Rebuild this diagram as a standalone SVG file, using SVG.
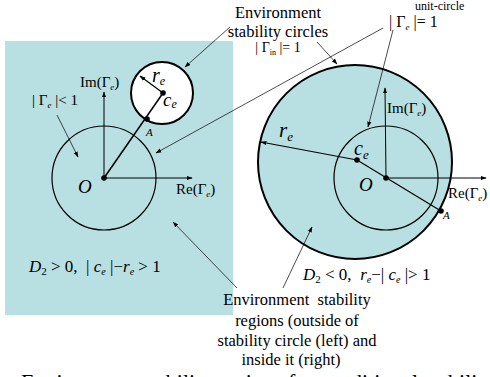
<svg xmlns="http://www.w3.org/2000/svg" width="490" height="377" viewBox="0 0 490 377">
<defs>
<marker id="ah" viewBox="0 0 10 10" refX="9" refY="5" markerWidth="6" markerHeight="6" orient="auto" markerUnits="userSpaceOnUse">
<path d="M0,1.5 L10,5 L0,8.5 z" fill="#000"/>
</marker>
<style>
text{font-family:"Liberation Serif","Times New Roman",serif;fill:#000;white-space:pre}
.it{font-style:italic}
.ptr{stroke:#000;stroke-width:0.7;fill:none;marker-end:url(#ah)}
.ax{stroke:#000;stroke-width:1;fill:none;marker-end:url(#ah)}
.unit{stroke:#000;stroke-width:1.2;fill:none}
.stab{stroke:#000;stroke-width:2}
.dot{fill:#000}
</style>
</defs>
<rect width="490" height="377" fill="#fff"/>

<g id="left-plane">
<rect x="5" y="41" width="228" height="274" fill="#b8dfe1"/>
<circle cx="162" cy="93" r="31" fill="#fff" class="stab"/>
<circle cx="104" cy="178" r="52" class="unit"/>
<line x1="104" y1="178" x2="104" y2="92" class="ax"/>
<line x1="104" y1="178" x2="192" y2="178" class="ax"/>
<line x1="104" y1="178" x2="163" y2="93" stroke="#000" stroke-width="1.5"/>
<line x1="163" y1="93" x2="140" y2="76" stroke="#000" stroke-width="1.2" marker-end="url(#ah)"/>
<circle cx="104" cy="178" r="2.8" class="dot"/>
<circle cx="163" cy="93" r="2.8" class="dot"/>
<circle cx="147" cy="119" r="2.8" class="dot"/>
<text x="80" y="87" font-size="15">Im(Γ<tspan class="it" font-size="9" dy="3">e</tspan><tspan dy="-3">)</tspan></text>
<text x="32" y="105" font-size="15">| Γ<tspan class="it" font-size="9" dy="3">e</tspan><tspan dy="-3"> |&lt; 1</tspan></text>
<text x="152" y="82" font-size="20" class="it">r<tspan font-size="12" dy="3">e</tspan></text>
<text x="163" y="106" font-size="19" class="it">c<tspan font-size="12" dy="2">e</tspan></text>
<text x="146" y="136" font-size="11" class="it">A</text>
<text x="78" y="193" font-size="19" class="it">O</text>
<text x="176" y="194" font-size="15">Re(Γ<tspan class="it" font-size="9" dy="3">e</tspan><tspan dy="-3">)</tspan></text>
<text x="29" y="272" font-size="17"><tspan class="it">D</tspan><tspan font-size="11" dy="3">2</tspan><tspan dy="-3"> &gt; 0,  | </tspan><tspan class="it">c</tspan><tspan class="it" font-size="10" dy="3">e</tspan><tspan dy="-3"> |−</tspan><tspan class="it">r</tspan><tspan class="it" font-size="10" dy="3">e</tspan><tspan dy="-3"> &gt; 1</tspan></text>
</g>

<g id="right-plane">
<circle cx="355" cy="162" r="97" fill="#b8dfe1" class="stab"/>
<circle cx="386" cy="178" r="52" class="unit"/>
<line x1="386" y1="178" x2="385" y2="88" class="ax"/>
<line x1="386" y1="178" x2="486" y2="178" class="ax"/>
<line x1="357" y1="160" x2="441" y2="211" stroke="#000" stroke-width="1.2"/>
<line x1="357" y1="160" x2="261" y2="142" stroke="#000" stroke-width="1.2" marker-end="url(#ah)"/>
<circle cx="386" cy="178" r="2.8" class="dot"/>
<circle cx="357" cy="160" r="2.8" class="dot"/>
<circle cx="441" cy="211" r="2.8" class="dot"/>
<text x="387" y="113" font-size="15">Im(Γ<tspan class="it" font-size="9" dy="3">e</tspan><tspan dy="-3">)</tspan></text>
<text x="279" y="137" font-size="21" class="it">r<tspan font-size="13" dy="4">e</tspan></text>
<text x="354" y="155" font-size="20" class="it">c<tspan font-size="13" dy="4">e</tspan></text>
<text x="359" y="191" font-size="19" class="it">O</text>
<text x="448" y="198" font-size="15">Re(Γ<tspan class="it" font-size="9" dy="3">e</tspan><tspan dy="-3">)</tspan></text>
<text x="443" y="219" font-size="11" class="it">A</text>
<text x="303" y="280" font-size="17"><tspan class="it">D</tspan><tspan font-size="11" dy="3">2</tspan><tspan dy="-3"> &lt; 0,  </tspan><tspan class="it">r</tspan><tspan class="it" font-size="10" dy="3">e</tspan><tspan dy="-3">−| </tspan><tspan class="it">c</tspan><tspan class="it" font-size="10" dy="3">e</tspan><tspan dy="-3"> |&gt; 1</tspan></text>
</g>

<g id="label-stability-circles">
<text x="278" y="18" font-size="16.5" text-anchor="middle">Environment</text>
<text x="278" y="37" font-size="16.5" text-anchor="middle">stability circles</text>
<text x="278" y="52" font-size="14" text-anchor="middle">| Γ<tspan font-size="8" dy="3">in</tspan><tspan dy="-3"> |= 1</tspan></text>
</g>

<g id="label-unit-circle">
<text x="415" y="10" font-size="12">unit-circle</text>
<text x="389" y="27" font-size="16">| Γ<tspan class="it" font-size="9" dy="3">e</tspan><tspan dy="-3"> |= 1</tspan></text>
</g>

<g id="label-regions">
<text x="297" y="305" font-size="16.5" text-anchor="middle">Environment  stability</text>
<text x="297" y="326" font-size="16.5" text-anchor="middle">regions (outside of</text>
<text x="297" y="346" font-size="16.5" text-anchor="middle">stability circle (left) and</text>
<text x="291" y="365" font-size="16.5" text-anchor="middle">inside it (right)</text>
</g>

<g id="caption">
<text x="21" y="389" font-size="22">Environment stability regions for conditional stability</text>
</g>

<g id="connectors">
<line x1="230" y1="27" x2="185" y2="67" class="ptr"/>
<line x1="317" y1="42" x2="337" y2="64" class="ptr"/>
<line x1="383" y1="28" x2="156" y2="153" class="ptr"/>
<line x1="393" y1="30" x2="368" y2="127" class="ptr"/>
<line x1="57" y1="115" x2="78" y2="157" class="ptr"/>
<line x1="237" y1="288" x2="173" y2="222" class="ptr"/>
<line x1="283" y1="288" x2="312" y2="227" class="ptr"/>
</g>
</svg>
